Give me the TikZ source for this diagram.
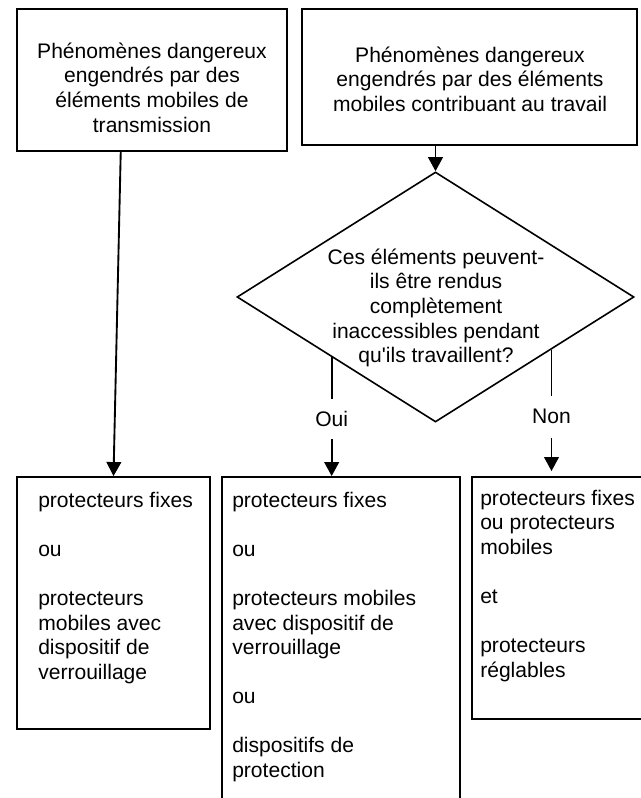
\documentclass[tikz,border=0pt]{standalone}
\usepackage{fontspec}
\setmainfont{Liberation Sans}
\usetikzlibrary{shapes.geometric,arrows.meta,calc}
\begin{document}
\begin{tikzpicture}[x=0.75pt,y=-0.75pt,
  box/.style={draw, line width=1.4pt, inner sep=0pt},
  txt/.style={inner sep=0pt, font=\fontsize{15.8}{18.4}\selectfont},
  lab/.style={inner xsep=2pt, font=\fontsize{15.8}{18.4}\selectfont},
  arr/.style={line width=1.4pt, -{Triangle[length=10.5pt,width=11pt]}},
  ln/.style={line width=1.4pt}]
\useasboundingbox (0,0) rectangle (641,798);
\clip (0,0) rectangle (641,798);
\fill[white] (0,0) rectangle (641,798);
% top boxes
\node[box, minimum width={270*0.75pt}, minimum height={142*0.75pt}] (b1) at (152,80) {};
\node[box, minimum width={335*0.75pt}, minimum height={136*0.75pt}] (b2) at (469.5,77) {};
\node[txt, align=center, anchor=north] (t1) at (152,41) {\strut Phénomènes dangereux\\engendrés par des\\éléments mobiles de\\transmission};
\node[txt, align=center, anchor=north] (t2) at (470,45) {\strut Phénomènes dangereux\\engendrés par des éléments\\mobiles contribuant au travail};
% decision
\node[draw, diamond, line width=1.2pt, inner sep=0pt, minimum width={397*0.75pt}, minimum height={250*0.75pt}] (dia) at (435.5,297) {};
\node[txt, align=center, anchor=north] (q) at (436,247) {\strut Ces éléments peuvent-\\ils être rendus\\complètement\\inaccessibles pendant\\qu\textquotesingle ils travaillent?};
% bottom boxes
\node[box, minimum width={193*0.75pt}, minimum height={252*0.75pt}] (lb) at (113.5,603) {};
\node[box, minimum width={238*0.75pt}, minimum height={343*0.75pt}] (mb) at (341,648.5) {};
\node[box, minimum width={188*0.75pt}, minimum height={242*0.75pt}] (rb) at (566,598) {};
\node[txt, align=left, anchor=north west] (lt) at (38,490) {\strut protecteurs fixes\\[18.4pt]ou\\[18.4pt]protecteurs\\mobiles avec\\dispositif de\\verrouillage};
\node[txt, align=left, anchor=north west] (mt) at (232,490) {\strut protecteurs fixes\\[18.4pt]ou\\[18.4pt]protecteurs mobiles\\avec dispositif de\\verrouillage\\[18.4pt]ou\\[18.4pt]dispositifs de\\protection};
\node[txt, align=left, anchor=north west] (rt) at (480,488) {\strut protecteurs fixes\\ou protecteurs\\mobiles\\[18.4pt]et\\[18.4pt]protecteurs\\réglables};
% connectors
\draw[arr] ($(b1.south west)!0.385!(b1.south east)$) -- (lb.north);
\draw[arr] (b2.south -| dia.north) -- (dia.north);
\coordinate (eo) at ($(dia.west)!0.479!(dia.south)$);
\coordinate (en) at ($(dia.east)!0.418!(dia.south)$);
\path (eo) ++(0,62) node[lab, inner ysep=9pt] (oui) {Oui};
\path (en) ++(0,67) node[lab, inner ysep=10pt] (non) {Non};
\draw[ln] (eo) -- (oui.north);
\draw[arr] (oui.south) -- (oui.south |- mb.north);
\coordinate (ne) at ($(non.south |- rb.north)+(0,-5)$);
\draw[ln] (en) -- (non.north);
\draw[arr] (non.south) -- (ne);
\end{tikzpicture}
\end{document}
